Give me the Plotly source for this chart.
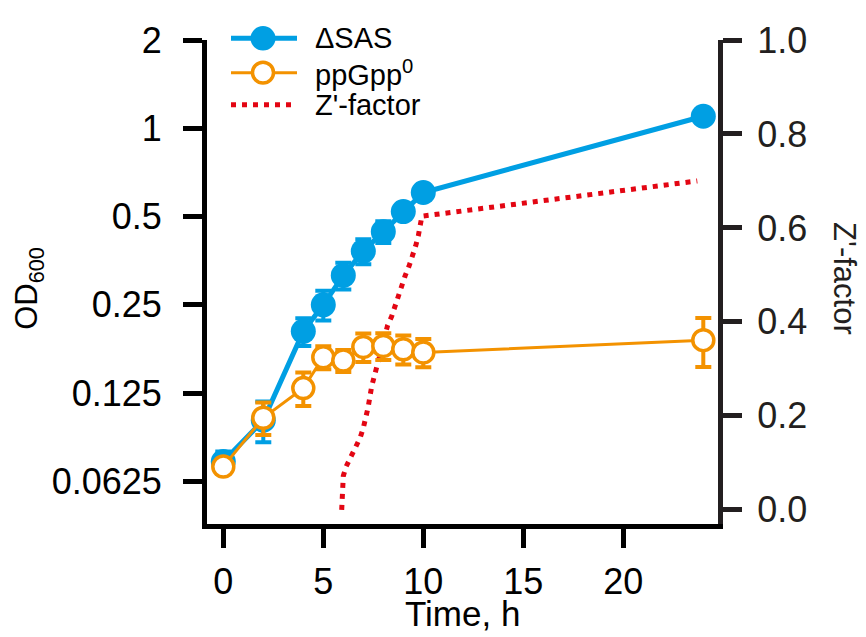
import plotly.graph_objects as go
import math

# ---------------- data ----------------
time_sas = [0, 2, 4, 5, 6, 7, 8, 9, 10, 24]
od_sas = [0.073, 0.101, 0.203, 0.250, 0.315, 0.381, 0.444, 0.520, 0.604, 1.099]
err_sas = [0.006, 0.016, 0.022, 0.029, 0.033, 0.037, 0.038, 0.02, 0.02, 0.02]

time_ppgpp = [0, 2, 4, 5, 6, 7, 8, 9, 10, 24]
od_ppgpp = [0.0702, 0.103, 0.130, 0.1657, 0.1614, 0.1796, 0.1810, 0.1764, 0.1720, 0.1894]
err_ppgpp = [0.004, 0.013, 0.017, 0.015, 0.014, 0.020, 0.019, 0.020, 0.019, 0.036]

time_z = [5.92, 5.97, 6.0, 6.14, 6.37, 6.6, 6.84, 7.0, 7.14, 7.24, 7.42, 7.7, 8.0,
          8.22, 8.42, 8.59, 8.92, 9.09, 9.29, 9.47, 9.62, 9.75, 9.84, 9.93, 23.7]
z_factor = [0.0, 0.04, 0.072, 0.092, 0.112, 0.132, 0.153, 0.174, 0.195, 0.218, 0.263, 0.308,
            0.355, 0.393, 0.412, 0.436, 0.478, 0.498, 0.519, 0.540, 0.562, 0.583, 0.603, 0.625, 0.700]

od_tickvals = [0.0625, 0.125, 0.25, 0.5, 1, 2]
od_ticktext = ["0.0625", "0.125", "0.25", "0.5", "1", "2"]
z_tickvals = [0.0, 0.2, 0.4, 0.6, 0.8, 1.0]
z_ticktext = ["0.0", "0.2", "0.4", "0.6", "0.8", "1.0"]
x_tickvals = [0, 5, 10, 15, 20]

labels = ["\u0394SAS", "ppGpp<sup>0</sup>", "Z'-factor"]

# ---------------- style ----------------
BLUE = "#009FE3"
ORANGE = "#F39200"
RED = "#E30613"
DARK = "#231F20"
FONT = "Liberation Sans, Arial, Helvetica, sans-serif"
TICK_FS = 36
XTITLE_FS = 35
YTITLE_FS = 31

OFF = 8  # page body margin in the screenshot
W, H = 866 - OFF, 637 - OFF
ML, MR, MT, MB = 207 - OFF, 148, 30 - OFF, 113
PW, PH = W - ML - MR, H - MT - MB


def px(x):
    return (x - OFF - ML) / PW


def py(y):
    return (OFF + H - MB - y) / PH


fig = go.Figure()

# Z'-factor on primary y (right side, drawn underneath)
fig.add_trace(go.Scatter(
    x=time_z, y=z_factor, mode="lines", name=labels[2],
    line=dict(color=RED, width=5, dash="5px,6px"),
    yaxis="y", showlegend=False,
))

fig.add_trace(go.Scatter(
    x=time_sas, y=od_sas, mode="lines+markers", name=labels[0],
    line=dict(color=BLUE, width=5),
    marker=dict(color=BLUE, size=25, line=dict(width=0)),
    error_y=dict(type="data", array=err_sas, color=BLUE, thickness=4, width=8),
    yaxis="y2", showlegend=False,
))

fig.add_trace(go.Scatter(
    x=time_ppgpp, y=od_ppgpp, mode="lines+markers", name=labels[1],
    line=dict(color=ORANGE, width=3),
    marker=dict(color="white", size=21, line=dict(color=ORANGE, width=3.5)),
    error_y=dict(type="data", array=err_ppgpp, color=ORANGE, thickness=4, width=8),
    yaxis="y2", showlegend=False,
))

x_range = [(ML + OFF - 223.3) / 20, (ML + OFF + PW - 223.3) / 20]
px_per_doubling = 90.1
bottom_log2 = 1 - PH / px_per_doubling
z_bottom = 1 - PH / 479.5

fig.update_layout(
    width=W, height=H,
    margin=dict(l=ML, r=MR, t=MT, b=MB, pad=0),
    paper_bgcolor="white", plot_bgcolor="white",
    font=dict(family=FONT, size=TICK_FS, color="black"),
    showlegend=False,
    xaxis=dict(
        range=x_range, tickvals=x_tickvals, ticktext=[str(v) for v in x_tickvals],
        showline=True, linewidth=5, linecolor="black",
        ticks="outside", ticklen=19, tickwidth=5, tickcolor="black",
        ticklabelstandoff=3,
        showgrid=False, zeroline=False,
        tickfont=dict(size=TICK_FS, family=FONT, color="black"),
    ),
    yaxis=dict(
        side="right", range=[z_bottom, 1.0],
        tickvals=z_tickvals, ticktext=z_ticktext,
        showline=True, linewidth=5, linecolor=DARK,
        ticks="outside", ticklen=19, tickwidth=5, tickcolor=DARK,
        ticklabelstandoff=8,
        showgrid=False, zeroline=False,
        tickfont=dict(size=TICK_FS, family=FONT, color=DARK),
    ),
    yaxis2=dict(
        type="log", side="left", overlaying="y", anchor="x",
        range=[bottom_log2 * math.log10(2), math.log10(2)],
        tickvals=od_tickvals, ticktext=od_ticktext,
        showline=True, linewidth=5, linecolor="black",
        ticks="outside", ticklen=19, tickwidth=5, tickcolor="black",
        ticklabelstandoff=14,
        showgrid=False, zeroline=False,
        tickfont=dict(size=TICK_FS, family=FONT, color="black"),
    ),
)

# axis titles
annotations = [
    dict(text="Time, h", x=px(462.3), y=py(637), xref="paper", yref="paper",
         showarrow=False, xanchor="center", yanchor="bottom",
         font=dict(size=XTITLE_FS, family=FONT, color="black")),
    dict(text="OD<sub>600</sub>", x=px(29), y=py(284), xref="paper", yref="paper",
         showarrow=False, xanchor="center", yanchor="middle", textangle=-90,
         font=dict(size=YTITLE_FS, family=FONT, color="black")),
    dict(text="Z'-factor", x=px(845), y=py(273), xref="paper", yref="paper",
         showarrow=False, xanchor="center", yanchor="middle", textangle=90,
         font=dict(size=YTITLE_FS, family=FONT, color=DARK)),
]

# custom legend
rows = [28.3, 63.3, 96.0]
LEG_FS = 29
for lab, ry in zip(labels, rows):
    annotations.append(dict(text=lab, x=px(313), y=py(ry), xref="paper", yref="paper",
                            showarrow=False, xanchor="left", yanchor="middle",
                            font=dict(size=LEG_FS, family=FONT, color="black")))

shapes = [
    dict(type="line", xref="paper", yref="paper", x0=px(231), x1=px(297), y0=py(rows[0]), y1=py(rows[0]),
         line=dict(color=BLUE, width=5)),
    dict(type="circle", xref="paper", yref="paper", x0=px(263 - 12.5), x1=px(263 + 12.5),
         y0=py(rows[0] + 12.5), y1=py(rows[0] - 12.5), fillcolor=BLUE, line=dict(width=0)),
    dict(type="line", xref="paper", yref="paper", x0=px(231), x1=px(297), y0=py(rows[1]), y1=py(rows[1]),
         line=dict(color=ORANGE, width=3)),
    dict(type="circle", xref="paper", yref="paper", x0=px(263 - 10.5), x1=px(263 + 10.5),
         y0=py(rows[1] + 10.5), y1=py(rows[1] - 10.5), fillcolor="white",
         line=dict(color=ORANGE, width=3.5)),
    dict(type="line", xref="paper", yref="paper", x0=px(231), x1=px(293), y0=py(rows[2]), y1=py(rows[2]),
         line=dict(color=RED, width=5, dash="5px,6px")),
]

fig.update_layout(annotations=annotations, shapes=shapes)

fig.write_html("out.html")
